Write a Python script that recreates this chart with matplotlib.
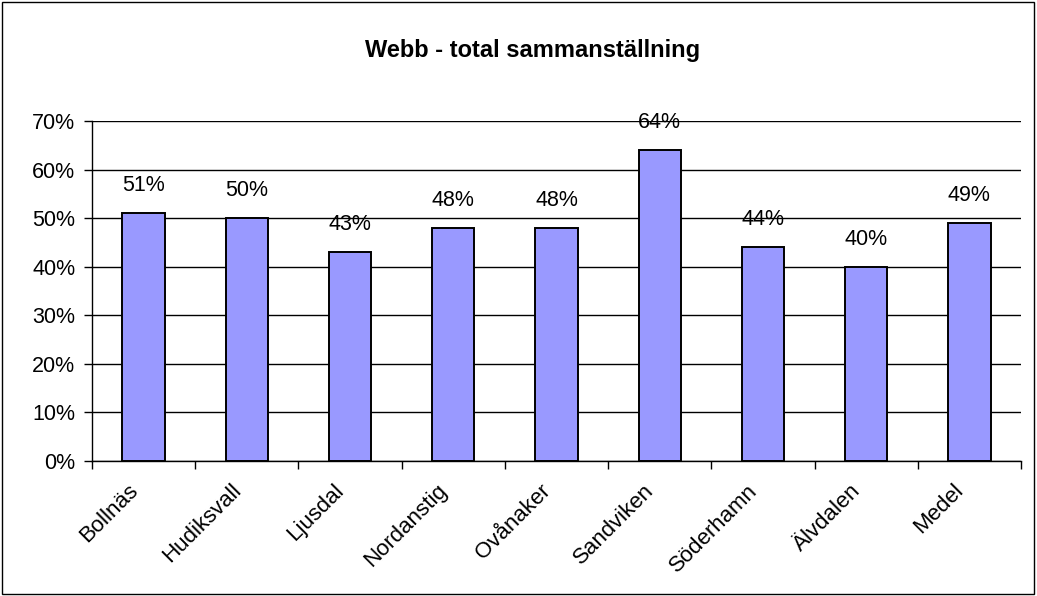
import matplotlib.pyplot as plt
from matplotlib.ticker import PercentFormatter
from matplotlib.patches import Rectangle
from matplotlib.transforms import ScaledTranslation

plt.rcParams["font.family"] = ["Liberation Sans", "DejaVu Sans"]

categories = ["Bollnäs", "Hudiksvall", "Ljusdal", "Nordanstig", "Ovånaker",
              "Sandviken", "Söderhamn", "Älvdalen", "Medel"]
values = [51, 50, 43, 48, 48, 64, 44, 40, 49]
labels = ["51%", "50%", "43%", "48%", "48%", "64%", "44%", "40%", "49%"]

fig = plt.figure(figsize=(10.37, 5.96), dpi=100)
ax = fig.add_axes([92 / 1037, 1 - 461 / 596, 929 / 1037, 340 / 596])

x = range(len(categories))
ax.bar(x, values, width=0.41, color="#9999FF", edgecolor="black", linewidth=1.4, zorder=3)
for i, (v, lab) in enumerate(zip(values, labels)):
    ax.text(i, v + 3.5, lab, ha="center", va="bottom", fontsize=15.5)

ax.set_xlim(-0.5, len(categories) - 0.5)
ax.set_ylim(0, 70)
ax.set_yticks(range(0, 71, 10))
ax.yaxis.set_major_formatter(PercentFormatter(decimals=0))
ax.set_xticks([i - 0.5 for i in range(len(categories) + 1)], minor=False)
ax.set_xticklabels([])
ax.set_xticks(list(x), minor=True)
ax.set_xticklabels(categories, minor=True, rotation=45, ha="right", va="center",
                   rotation_mode="anchor", fontsize=16)
ax.tick_params(axis="x", which="minor", length=0, pad=19)
ax.tick_params(axis="x", which="major", length=6, direction="out", width=1)
ax.tick_params(axis="y", length=6, direction="out", labelsize=15.5, width=1, pad=6)
# nudge the slanted category names a bit to the left, like Excel places them
shift = ScaledTranslation(-9 / 100, 0, fig.dpi_scale_trans)
for t in ax.get_xticklabels(minor=True):
    t.set_transform(t.get_transform() + shift)
ax.grid(axis="y", color="black", linewidth=1, zorder=0)
for s in ["top", "right"]:
    ax.spines[s].set_visible(False)
ax.spines["left"].set_linewidth(1)
ax.spines["bottom"].set_linewidth(1)

fig.text(533 / 1037, 1 - 50 / 596, "Webb - total sammanställning",
         ha="center", va="center", fontsize=17, fontweight="bold")

fig.patches.append(Rectangle((2 / 1037, 2 / 596), 1032 / 1037, 592 / 596,
                             transform=fig.transFigure, fill=False,
                             edgecolor="black", linewidth=1))

fig.savefig("out.png", dpi=100)
